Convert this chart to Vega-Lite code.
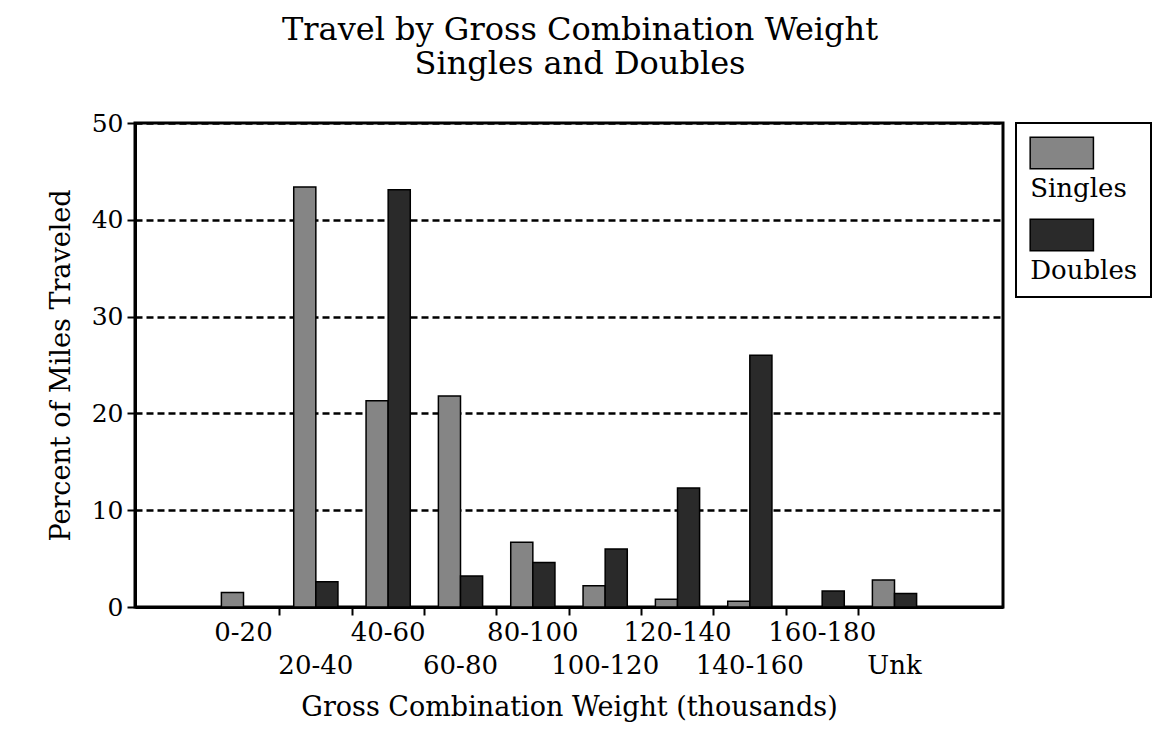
{
  "$schema": "https://vega.github.io/schema/vega-lite/v6.json",
  "width": 868,
  "height": 484,
  "autosize": {"type": "none"},
  "padding": {"left": 135, "top": 123, "right": 165, "bottom": 129},
  "background": "white",
  "title": {
    "text": ["Travel by Gross Combination Weight", "Singles and Doubles"],
    "font": "DejaVu Serif",
    "fontSize": 32,
    "fontWeight": "normal",
    "color": "black",
    "lineHeight": 34,
    "offset": 30,
    "dx": 11,
    "anchor": "middle"
  },
  "data": {
    "values": [
      {"weight": "0-20", "series": "Singles", "percent": 1.5},
      {"weight": "0-20", "series": "Doubles", "percent": 0},
      {"weight": "20-40", "series": "Singles", "percent": 43.4},
      {"weight": "20-40", "series": "Doubles", "percent": 2.6},
      {"weight": "40-60", "series": "Singles", "percent": 21.3},
      {"weight": "40-60", "series": "Doubles", "percent": 43.1},
      {"weight": "60-80", "series": "Singles", "percent": 21.8},
      {"weight": "60-80", "series": "Doubles", "percent": 3.2},
      {"weight": "80-100", "series": "Singles", "percent": 6.7},
      {"weight": "80-100", "series": "Doubles", "percent": 4.6},
      {"weight": "100-120", "series": "Singles", "percent": 2.2},
      {"weight": "100-120", "series": "Doubles", "percent": 6.0},
      {"weight": "120-140", "series": "Singles", "percent": 0.8},
      {"weight": "120-140", "series": "Doubles", "percent": 12.3},
      {"weight": "140-160", "series": "Singles", "percent": 0.6},
      {"weight": "140-160", "series": "Doubles", "percent": 26.0},
      {"weight": "160-180", "series": "Singles", "percent": 0},
      {"weight": "160-180", "series": "Doubles", "percent": 1.65},
      {"weight": "Unk", "series": "Singles", "percent": 2.8},
      {"weight": "Unk", "series": "Doubles", "percent": 1.4}
    ]
  },
  "layer": [
    {
      "mark": {"type": "bar", "stroke": "black", "strokeWidth": 1.5},
      "encoding": {
        "x": {
          "field": "weight",
          "type": "nominal",
          "sort": ["0-20", "20-40", "40-60", "60-80", "80-100", "100-120", "120-140", "140-160", "160-180", "Unk"],
          "scale": {"paddingInner": 0, "paddingOuter": 1.03},
          "axis": {
            "orient": "bottom",
            "title": "Gross Combination Weight (thousands)",
            "titleFont": "DejaVu Serif",
            "titleFontSize": 27,
            "titleFontWeight": "normal",
            "titleColor": "black",
            "titlePadding": 16,
            "labelAngle": 0,
            "labelFont": "DejaVu Serif",
            "labelFontSize": 26,
            "labelColor": "black",
            "labelPadding": 12,
            "labelLineHeight": 33,
            "labelOverlap": false,
            "labelExpr": "indexof(['20-40','60-80','100-120','140-160','Unk'], datum.label) >= 0 ? ['', datum.label] : datum.label",
            "ticks": false,
            "domainColor": "black",
            "domainWidth": 3
          }
        },
        "xOffset": {
          "field": "series",
          "sort": ["Singles", "Doubles"],
          "scale": {"paddingInner": 0, "paddingOuter": 0.636}
        },
        "y": {
          "field": "percent",
          "type": "quantitative",
          "scale": {"domain": [0, 50], "nice": false},
          "axis": {
            "values": [0, 10, 20, 30, 40, 50],
            "grid": true,
            "gridDash": [7, 4],
            "gridColor": "black",
            "gridWidth": 2.5,
            "gridOpacity": 1,
            "domainColor": "black",
            "domainWidth": 3,
            "tickColor": "black",
            "tickSize": 8,
            "tickWidth": 2,
            "labelFont": "DejaVu Serif",
            "labelFontSize": 25,
            "labelColor": "black",
            "labelPadding": 4,
            "title": "Percent of Miles Traveled",
            "titleFont": "DejaVu Serif",
            "titleFontSize": 27,
            "titleFontWeight": "normal",
            "titleColor": "black",
            "titlePadding": 16
          }
        },
        "color": {
          "field": "series",
          "type": "nominal",
          "sort": ["Singles", "Doubles"],
          "scale": {"range": ["#858585", "#2a2a2a"]},
          "legend": {
            "title": null,
            "orient": "right",
            "offset": 13,
            "padding": 13,
            "strokeColor": "black",
            "symbolType": "M-2,-1H2V1H-2Z",
            "symbolSize": 1000,
            "symbolStrokeColor": "black",
            "symbolStrokeWidth": 1.5,
            "symbolOpacity": 1,
            "symbolOffset": 15.8,
            "labelOffset": -48.6,
            "rowPadding": 14,
            "labelFont": "DejaVu Serif",
            "labelFontSize": 26,
            "labelColor": "black",
            "encode": {
              "labels": {"update": {"dy": {"value": 36}}},
              "legend": {"update": {"strokeWidth": {"value": 2}}}
            }
          }
        }
      }
    },
    {
      "mark": {"type": "bar", "opacity": 0},
      "encoding": {
        "x": {
          "field": "weight",
          "type": "nominal",
          "sort": ["0-20", "20-40", "40-60", "60-80", "80-100", "100-120", "120-140", "140-160", "160-180", "Unk"],
          "axis": {
            "orient": "bottom",
            "values": ["20-40", "40-60", "60-80", "80-100", "100-120", "120-140", "140-160", "160-180", "Unk"],
            "bandPosition": 0,
            "labels": false,
            "domain": false,
            "title": null,
            "grid": false,
            "ticks": true,
            "tickSize": 8,
            "tickWidth": 2,
            "tickColor": "black"
          }
        }
      }
    }
  ],
  "resolve": {"axis": {"x": "independent"}},
  "config": {
    "view": {"stroke": "black", "strokeWidth": 3},
    "font": "DejaVu Serif"
  }
}
